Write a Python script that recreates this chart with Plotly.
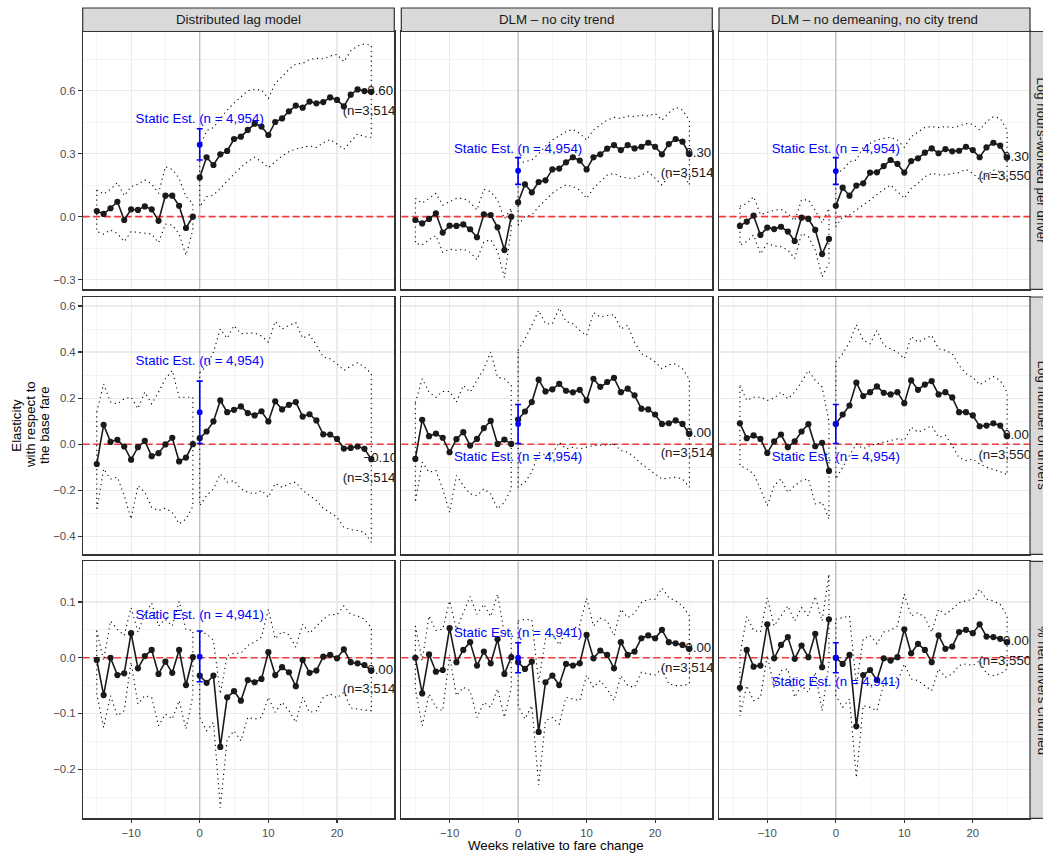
import plotly.graph_objects as go

# figure fills the whole 1043x855 window (page margin removed after render)
OFF = 0.0
FW, FH = 1043, 855
FONT = "Liberation Sans, Arial, Helvetica, sans-serif"

# ---------------- data ----------------
weeks_pre15 = list(range(-15, 0))
weeks_pre14 = list(range(-14, 0))
weeks_post = list(range(0, 26))

model_titles = ["Distributed lag model", "DLM – no city trend", "DLM – no demeaning, no city trend"]
outcome_titles = ["Log hours-worked per driver", "Log number of drivers", "% net drivers churned"]

x_ticks = [-10, 0, 10, 20]
x_minor = [-15, -5, 5, 15, 25]
y_ticks_hrs = [-0.3, 0.0, 0.3, 0.6]
y_minor_hrs = [-0.15, 0.15, 0.45, 0.75]
y_ticks_drv = [-0.4, -0.2, 0.0, 0.2, 0.4, 0.6]
y_minor_drv = [-0.3, -0.1, 0.1, 0.3, 0.5]
y_ticks_churn = [-0.2, -0.1, 0.0, 0.1]
y_minor_churn = [-0.25, -0.15, -0.05, 0.05, 0.15]

static_n = ["4,954", "4,954", "4,941"]          # per outcome row
final_n = ["3,514", "3,514", "3,550"]           # per model column

# --- Log hours-worked per driver ---
hrs_dlm_est_pre = [0.027, 0.013, 0.040, 0.071, -0.016, 0.035, 0.032, 0.049, 0.035, -0.020, 0.100, 0.100, 0.052, -0.054, 0.000]
hrs_dlm_hi_pre = [0.127, 0.108, 0.130, 0.162, 0.100, 0.143, 0.154, 0.175, 0.156, 0.111, 0.238, 0.225, 0.183, 0.095, 0.063]
hrs_dlm_lo_pre = [-0.071, -0.083, -0.063, -0.080, -0.119, -0.071, -0.076, -0.079, -0.083, -0.124, -0.035, -0.040, -0.083, -0.184, -0.063]
hrs_dlm_est_post = [0.187, 0.283, 0.246, 0.297, 0.313, 0.370, 0.381, 0.413, 0.443, 0.429, 0.389, 0.451, 0.468, 0.502, 0.529, 0.519, 0.548, 0.540, 0.546, 0.568, 0.556, 0.525, 0.581, 0.606, 0.598, 0.595]
hrs_dlm_hi_post = [0.330, 0.410, 0.425, 0.468, 0.508, 0.540, 0.571, 0.600, 0.606, 0.603, 0.563, 0.635, 0.667, 0.702, 0.727, 0.730, 0.749, 0.754, 0.752, 0.765, 0.773, 0.738, 0.790, 0.813, 0.822, 0.817]
hrs_dlm_lo_post = [0.048, 0.095, 0.103, 0.135, 0.167, 0.203, 0.235, 0.262, 0.283, 0.262, 0.233, 0.262, 0.289, 0.310, 0.322, 0.330, 0.337, 0.330, 0.352, 0.368, 0.346, 0.321, 0.357, 0.394, 0.381, 0.378]

hrs_nct_est_pre = [-0.016, -0.032, -0.011, 0.016, -0.076, -0.043, -0.044, -0.037, -0.060, -0.098, 0.011, 0.008, -0.051, -0.159, 0.000]
hrs_nct_hi_pre = [0.087, 0.065, 0.087, 0.111, 0.055, 0.071, 0.087, 0.087, 0.068, 0.032, 0.130, 0.119, 0.079, -0.010, 0.040]
hrs_nct_lo_pre = [-0.127, -0.135, -0.110, -0.090, -0.170, -0.155, -0.160, -0.155, -0.170, -0.205, -0.120, -0.110, -0.165, -0.290, -0.060]
hrs_nct_est_post = [0.068, 0.154, 0.116, 0.165, 0.173, 0.225, 0.229, 0.259, 0.283, 0.267, 0.225, 0.283, 0.297, 0.324, 0.341, 0.317, 0.341, 0.325, 0.333, 0.352, 0.333, 0.297, 0.346, 0.370, 0.357, 0.298]
hrs_nct_hi_post = [0.254, 0.262, 0.270, 0.300, 0.336, 0.365, 0.384, 0.405, 0.416, 0.397, 0.365, 0.413, 0.437, 0.460, 0.473, 0.468, 0.479, 0.476, 0.484, 0.479, 0.492, 0.460, 0.495, 0.521, 0.508, 0.460]
hrs_nct_lo_post = [-0.040, 0.000, 0.008, 0.048, 0.079, 0.111, 0.135, 0.151, 0.143, 0.127, 0.087, 0.135, 0.167, 0.198, 0.206, 0.190, 0.183, 0.183, 0.198, 0.214, 0.183, 0.151, 0.190, 0.222, 0.210, 0.151]

hrs_ndm_est_pre = [-0.044, -0.024, 0.005, -0.087, -0.052, -0.059, -0.048, -0.071, -0.116, -0.005, -0.011, -0.063, -0.178, -0.106]
hrs_ndm_hi_pre = [0.050, 0.063, 0.095, 0.010, 0.020, 0.030, 0.035, 0.015, -0.020, 0.080, 0.080, 0.030, -0.030, 0.040]
hrs_ndm_lo_pre = [-0.135, -0.119, -0.087, -0.178, -0.127, -0.140, -0.143, -0.159, -0.200, -0.080, -0.095, -0.159, -0.286, -0.222]
hrs_ndm_est_post = [0.052, 0.138, 0.100, 0.148, 0.159, 0.210, 0.211, 0.241, 0.270, 0.251, 0.210, 0.265, 0.278, 0.305, 0.325, 0.302, 0.322, 0.311, 0.314, 0.333, 0.317, 0.283, 0.330, 0.352, 0.338, 0.283]
hrs_ndm_hi_post = [0.206, 0.222, 0.262, 0.270, 0.333, 0.349, 0.365, 0.373, 0.378, 0.365, 0.330, 0.381, 0.405, 0.425, 0.429, 0.424, 0.429, 0.425, 0.432, 0.444, 0.440, 0.413, 0.452, 0.476, 0.468, 0.413]
hrs_ndm_lo_post = [-0.048, 0.000, 0.008, 0.032, 0.056, 0.079, 0.103, 0.130, 0.151, 0.119, 0.087, 0.135, 0.159, 0.190, 0.206, 0.200, 0.198, 0.206, 0.210, 0.225, 0.206, 0.175, 0.194, 0.222, 0.214, 0.167]

# --- Log number of drivers ---
drv_dlm_est_pre = [-0.086, 0.084, 0.010, 0.019, -0.010, -0.067, -0.013, 0.014, -0.052, -0.039, -0.001, 0.028, -0.075, -0.058, 0.000]
drv_dlm_hi_pre = [0.140, 0.262, 0.183, 0.175, 0.197, 0.204, 0.154, 0.226, 0.175, 0.226, 0.284, 0.320, 0.204, 0.204, 0.204]
drv_dlm_lo_pre = [-0.288, -0.107, -0.151, -0.143, -0.223, -0.325, -0.180, -0.209, -0.274, -0.288, -0.278, -0.296, -0.346, -0.325, -0.270]
drv_dlm_est_post = [0.026, 0.055, 0.099, 0.190, 0.139, 0.149, 0.164, 0.135, 0.125, 0.143, 0.099, 0.186, 0.151, 0.171, 0.183, 0.120, 0.130, 0.103, 0.043, 0.042, 0.023, -0.019, -0.016, -0.010, -0.020, -0.065]
drv_dlm_hi_post = [0.310, 0.340, 0.400, 0.500, 0.460, 0.515, 0.480, 0.480, 0.483, 0.470, 0.443, 0.533, 0.500, 0.516, 0.528, 0.460, 0.475, 0.430, 0.378, 0.371, 0.349, 0.320, 0.339, 0.354, 0.335, 0.306]
drv_dlm_lo_post = [-0.267, -0.223, -0.194, -0.129, -0.165, -0.158, -0.194, -0.209, -0.216, -0.201, -0.230, -0.170, -0.187, -0.172, -0.165, -0.201, -0.223, -0.245, -0.278, -0.296, -0.317, -0.361, -0.371, -0.375, -0.383, -0.426]

drv_nct_est_pre = [-0.064, 0.106, 0.035, 0.046, 0.028, -0.035, 0.022, 0.052, -0.006, 0.023, 0.070, 0.101, 0.001, 0.020, 0.001]
drv_nct_hi_pre = [0.180, 0.284, 0.226, 0.204, 0.229, 0.229, 0.183, 0.255, 0.226, 0.277, 0.328, 0.400, 0.291, 0.284, 0.255]
drv_nct_lo_pre = [-0.252, -0.078, -0.122, -0.114, -0.194, -0.296, -0.136, -0.180, -0.216, -0.223, -0.194, -0.216, -0.281, -0.252, -0.194]
drv_nct_est_post = [0.107, 0.142, 0.183, 0.280, 0.229, 0.238, 0.262, 0.232, 0.225, 0.236, 0.190, 0.284, 0.249, 0.270, 0.288, 0.226, 0.241, 0.212, 0.154, 0.151, 0.129, 0.088, 0.091, 0.103, 0.088, 0.045]
drv_nct_hi_post = [0.407, 0.458, 0.516, 0.581, 0.523, 0.523, 0.591, 0.533, 0.523, 0.494, 0.472, 0.571, 0.552, 0.559, 0.562, 0.501, 0.516, 0.443, 0.393, 0.378, 0.357, 0.328, 0.345, 0.349, 0.328, 0.281]
drv_nct_lo_post = [-0.187, -0.165, -0.122, -0.035, -0.049, -0.042, 0.009, -0.020, -0.013, -0.020, -0.013, -0.006, -0.006, -0.003, 0.001, -0.028, -0.035, -0.057, -0.086, -0.107, -0.129, -0.151, -0.148, -0.143, -0.151, -0.187]

drv_ndm_est_pre = [0.091, 0.026, 0.038, 0.023, -0.038, 0.012, 0.042, -0.013, 0.012, 0.055, 0.087, -0.009, 0.006, -0.116]
drv_ndm_hi_pre = [0.255, 0.190, 0.204, 0.204, 0.190, 0.200, 0.226, 0.197, 0.226, 0.270, 0.320, 0.277, 0.248, 0.100]
drv_ndm_lo_pre = [-0.093, -0.107, -0.129, -0.194, -0.267, -0.180, -0.151, -0.209, -0.180, -0.158, -0.151, -0.259, -0.252, -0.325]
drv_ndm_est_post = [0.088, 0.129, 0.168, 0.267, 0.209, 0.226, 0.251, 0.223, 0.216, 0.226, 0.178, 0.277, 0.236, 0.259, 0.274, 0.216, 0.226, 0.203, 0.139, 0.139, 0.125, 0.078, 0.081, 0.091, 0.081, 0.035]
drv_ndm_hi_post = [0.357, 0.393, 0.443, 0.519, 0.451, 0.436, 0.494, 0.429, 0.414, 0.400, 0.371, 0.468, 0.443, 0.458, 0.472, 0.414, 0.407, 0.393, 0.342, 0.306, 0.291, 0.258, 0.277, 0.294, 0.277, 0.226]
drv_ndm_lo_post = [-0.151, -0.100, -0.049, 0.001, -0.020, -0.006, 0.001, 0.009, 0.016, 0.023, 0.016, 0.074, 0.052, 0.064, 0.081, 0.030, 0.038, -0.006, -0.059, -0.071, -0.064, -0.086, -0.100, -0.110, -0.119, -0.133]

# --- % net drivers churned ---
churn_dlm_est_pre = [-0.004, -0.067, 0.000, -0.031, -0.028, 0.044, -0.019, 0.003, 0.014, -0.029, -0.007, -0.027, 0.014, -0.049, 0.001]
churn_dlm_hi_pre = [0.049, -0.005, 0.066, 0.051, 0.040, 0.090, 0.046, 0.078, 0.098, 0.057, 0.069, 0.057, 0.101, 0.051, 0.049]
churn_dlm_lo_pre = [-0.065, -0.125, -0.068, -0.104, -0.095, -0.008, -0.083, -0.068, -0.071, -0.122, -0.101, -0.110, -0.077, -0.128, -0.068]
churn_dlm_est_post = [-0.032, -0.045, -0.032, -0.160, -0.071, -0.060, -0.077, -0.040, -0.044, -0.038, 0.010, -0.031, -0.017, -0.026, -0.051, -0.004, -0.027, -0.023, 0.002, 0.005, -0.001, 0.015, -0.008, -0.010, -0.013, -0.023]
churn_dlm_hi_post = [0.046, 0.043, 0.031, -0.065, 0.004, 0.008, 0.008, 0.022, 0.028, 0.037, 0.087, 0.034, 0.047, 0.041, 0.019, 0.060, 0.044, 0.057, 0.069, 0.078, 0.077, 0.093, 0.078, 0.075, 0.069, 0.054]
churn_dlm_lo_post = [-0.107, -0.131, -0.116, -0.269, -0.146, -0.131, -0.149, -0.107, -0.110, -0.107, -0.071, -0.098, -0.080, -0.095, -0.116, -0.071, -0.098, -0.095, -0.071, -0.065, -0.072, -0.062, -0.090, -0.092, -0.094, -0.095]

churn_nct_est_pre = [0.000, -0.064, 0.006, -0.025, -0.022, 0.053, -0.008, 0.014, 0.028, -0.014, 0.011, -0.010, 0.033, -0.029, 0.001]
churn_nct_hi_pre = [0.057, -0.005, 0.075, 0.049, 0.051, 0.102, 0.051, 0.081, 0.110, 0.078, 0.096, 0.074, 0.114, 0.043, 0.049]
churn_nct_lo_pre = [-0.056, -0.122, -0.065, -0.089, -0.095, 0.004, -0.068, -0.053, -0.059, -0.107, -0.080, -0.089, -0.056, -0.107, -0.053]
churn_nct_est_post = [-0.008, -0.020, -0.007, -0.133, -0.044, -0.032, -0.049, -0.011, -0.014, -0.010, 0.041, -0.001, 0.013, 0.005, -0.019, 0.028, 0.005, 0.011, 0.035, 0.040, 0.035, 0.050, 0.028, 0.026, 0.023, 0.016]
churn_nct_hi_post = [0.066, 0.069, 0.068, -0.044, 0.034, 0.043, 0.023, 0.049, 0.051, 0.059, 0.107, 0.057, 0.071, 0.066, 0.040, 0.087, 0.072, 0.080, 0.099, 0.105, 0.105, 0.125, 0.108, 0.102, 0.093, 0.075]
churn_nct_lo_post = [-0.086, -0.110, -0.086, -0.228, -0.113, -0.107, -0.119, -0.071, -0.074, -0.077, -0.031, -0.053, -0.041, -0.056, -0.077, -0.032, -0.050, -0.053, -0.026, -0.029, -0.031, -0.020, -0.047, -0.050, -0.050, -0.047]

churn_ndm_est_pre = [-0.054, 0.014, -0.016, -0.014, 0.060, -0.001, 0.023, 0.037, -0.002, 0.022, 0.001, 0.043, -0.017, 0.069]
churn_ndm_hi_pre = [0.004, 0.074, 0.049, 0.046, 0.108, 0.057, 0.075, 0.093, 0.066, 0.090, 0.075, 0.110, 0.066, 0.150]
churn_ndm_lo_pre = [-0.104, -0.050, -0.077, -0.071, 0.004, -0.053, -0.023, -0.020, -0.071, -0.050, -0.062, -0.026, -0.095, -0.011]
churn_ndm_est_post = [0.000, -0.011, 0.005, -0.123, -0.031, -0.022, -0.040, -0.001, -0.005, 0.001, 0.051, 0.008, 0.025, 0.014, -0.008, 0.040, 0.016, 0.020, 0.046, 0.050, 0.044, 0.060, 0.038, 0.037, 0.034, 0.028]
churn_ndm_hi_post = [0.069, 0.072, 0.075, -0.050, 0.034, 0.040, 0.025, 0.046, 0.049, 0.057, 0.114, 0.075, 0.081, 0.072, 0.046, 0.087, 0.078, 0.087, 0.099, 0.102, 0.105, 0.123, 0.105, 0.102, 0.096, 0.075]
churn_ndm_lo_post = [-0.068, -0.089, -0.074, -0.215, -0.086, -0.089, -0.095, -0.047, -0.044, -0.044, -0.011, -0.038, -0.041, -0.050, -0.059, -0.020, -0.035, -0.029, -0.014, -0.011, -0.014, -0.005, -0.029, -0.032, -0.029, -0.020]

# static estimates (row-major: hrs, drv, churn x dlm, nct, ndm)
static_est = [0.343, 0.219, 0.217, 0.139, 0.088, 0.088, 0.002, 0.000, 0.000]
static_lo = [0.270, 0.154, 0.154, 0.003, 0.003, 0.003, -0.043, -0.027, -0.027]
static_hi = [0.419, 0.281, 0.281, 0.274, 0.172, 0.172, 0.048, 0.027, 0.027]
static_label_y = [0.463, 0.321, 0.321, 0.359, -0.057, -0.057, 0.075, 0.043, -0.044]

# ---------------- layout geometry (screen pixels) ----------------
col_px = [(82.7, 394.3), (401.3, 712.3), (719.0, 1030.0)]
row_px = [(31.5, 289.3), (297.0, 554.3), (561.3, 818.3)]
x_range = [-17.05, 28.35]
y_ranges = [[-0.346, 0.882], [-0.478, 0.639], [-0.288, 0.173]]
y_ticks = [y_ticks_hrs, y_ticks_drv, y_ticks_churn]
y_minor = [y_minor_hrs, y_minor_drv, y_minor_churn]


def px_x(p):
    return (p - OFF) / FW


def px_y(p):
    return 1 - (p - OFF) / FH


panels = {
    (0, 0): (weeks_pre15, hrs_dlm_est_pre, hrs_dlm_lo_pre, hrs_dlm_hi_pre, hrs_dlm_est_post, hrs_dlm_lo_post, hrs_dlm_hi_post),
    (0, 1): (weeks_pre15, hrs_nct_est_pre, hrs_nct_lo_pre, hrs_nct_hi_pre, hrs_nct_est_post, hrs_nct_lo_post, hrs_nct_hi_post),
    (0, 2): (weeks_pre14, hrs_ndm_est_pre, hrs_ndm_lo_pre, hrs_ndm_hi_pre, hrs_ndm_est_post, hrs_ndm_lo_post, hrs_ndm_hi_post),
    (1, 0): (weeks_pre15, drv_dlm_est_pre, drv_dlm_lo_pre, drv_dlm_hi_pre, drv_dlm_est_post, drv_dlm_lo_post, drv_dlm_hi_post),
    (1, 1): (weeks_pre15, drv_nct_est_pre, drv_nct_lo_pre, drv_nct_hi_pre, drv_nct_est_post, drv_nct_lo_post, drv_nct_hi_post),
    (1, 2): (weeks_pre14, drv_ndm_est_pre, drv_ndm_lo_pre, drv_ndm_hi_pre, drv_ndm_est_post, drv_ndm_lo_post, drv_ndm_hi_post),
    (2, 0): (weeks_pre15, churn_dlm_est_pre, churn_dlm_lo_pre, churn_dlm_hi_pre, churn_dlm_est_post, churn_dlm_lo_post, churn_dlm_hi_post),
    (2, 1): (weeks_pre15, churn_nct_est_pre, churn_nct_lo_pre, churn_nct_hi_pre, churn_nct_est_post, churn_nct_lo_post, churn_nct_hi_post),
    (2, 2): (weeks_pre14, churn_ndm_est_pre, churn_ndm_lo_pre, churn_ndm_hi_pre, churn_ndm_est_post, churn_ndm_lo_post, churn_ndm_hi_post),
}


def fmt(v, nd):
    return f"{v:.{nd}f}".replace("-", "\u2212")


def fmt_label(v):
    return fmt(round(v, 1) + 0.0, 2)


fig = go.Figure()
layout = dict(
    width=FW, height=FH, autosize=False,
    margin=dict(l=0, r=0, t=0, b=0, pad=0),
    paper_bgcolor="white", plot_bgcolor="white",
    showlegend=False, hovermode=False,
    font=dict(family=FONT, color="#1A1A1A"),
)
shapes = []
annotations = []

GRID = "#EBEBEB"
BORDER = "#333333"
TICKFONT = dict(family=FONT, size=11.4, color="#4D4D4D")
TEXTSIZE = 13.3

for (r, c), (xs_pre, e_pre, l_pre, h_pre, e_post, l_post, h_post) in panels.items():
    idx = r * 3 + c + 1
    xa = "x" if idx == 1 else f"x{idx}"
    ya = "y" if idx == 1 else f"y{idx}"
    xk = "xaxis" if idx == 1 else f"xaxis{idx}"
    yk = "yaxis" if idx == 1 else f"yaxis{idx}"
    x0, x1 = col_px[c]
    y0, y1 = row_px[r]
    ppu = (y1 - y0) / (y_ranges[r][1] - y_ranges[r][0])

    layout[xk] = dict(
        domain=[px_x(x0), px_x(x1)], range=x_range, anchor=ya,
        tickmode="array", tickvals=x_ticks, ticktext=[fmt(v, 0) for v in x_ticks],
        showticklabels=(r == 2), ticks="outside" if r == 2 else "",
        ticklen=3.5, tickwidth=1.1, tickcolor=BORDER, tickfont=TICKFONT,
        showgrid=True, gridcolor=GRID, gridwidth=1.1,
        minor=dict(tickvals=x_minor, showgrid=True, gridcolor=GRID, gridwidth=0.55, ticks=""),
        zeroline=False, showline=True, mirror=True, linecolor=BORDER, linewidth=1.2,
        fixedrange=True,
    )
    layout[yk] = dict(
        domain=[px_y(y1), px_y(y0)], range=y_ranges[r], anchor=xa,
        tickmode="array", tickvals=y_ticks[r], ticktext=[fmt(v, 1) for v in y_ticks[r]],
        showticklabels=(c == 0), ticks="outside" if c == 0 else "",
        ticklen=3.5, tickwidth=1.1, tickcolor=BORDER, tickfont=TICKFONT,
        showgrid=True, gridcolor=GRID, gridwidth=1.1,
        minor=dict(tickvals=y_minor[r], showgrid=True, gridcolor=GRID, gridwidth=0.55, ticks=""),
        zeroline=False, showline=True, mirror=True, linecolor=BORDER, linewidth=1.2,
        fixedrange=True,
    )

    # reference lines (axis coordinates spanning the full panel)
    shapes.append(dict(type="line", xref=xa, yref=ya, x0=x_range[0], x1=x_range[1], y0=0, y1=0,
                       line=dict(color="#F23A3A", width=1.6, dash="7px,3.5px"), layer="between"))
    shapes.append(dict(type="line", xref=xa, yref=ya, x0=0, x1=0,
                       y0=y_ranges[r][0], y1=y_ranges[r][1],
                       line=dict(color="#BEBEBE", width=1.3), layer="between"))

    # confidence bands (dotted outline)
    for xs, lo, hi in [(xs_pre, l_pre, h_pre), (weeks_post, l_post, h_post)]:
        bx = list(xs) + list(xs[::-1]) + [xs[0]]
        by = list(hi) + list(lo[::-1]) + [hi[0]]
        fig.add_trace(go.Scatter(x=bx, y=by, mode="lines", xaxis=xa, yaxis=ya,
                                 line=dict(color="black", width=1.1, dash="1.2px,3.6px"),
                                 hoverinfo="skip"))

    # end-of-window labels (drawn before points so the last point sits on top)
    last = e_post[-1]
    fig.add_trace(go.Scatter(x=[26.3], y=[last], mode="text", xaxis=xa, yaxis=ya,
                             text=[fmt_label(last)], textposition="middle center",
                             textfont=dict(family=FONT, size=TEXTSIZE, color="#1A1A1A"),
                             cliponaxis=True, hoverinfo="skip"))
    fig.add_trace(go.Scatter(x=[25.0], y=[last - 19.5 / ppu], mode="text", xaxis=xa, yaxis=ya,
                             text=[f"(n={final_n[c]})"], textposition="middle center",
                             textfont=dict(family=FONT, size=TEXTSIZE, color="#1A1A1A"),
                             cliponaxis=True, hoverinfo="skip"))

    # estimates
    for xs, est in [(xs_pre, e_pre), (weeks_post, e_post)]:
        fig.add_trace(go.Scatter(x=xs, y=est, mode="lines+markers", xaxis=xa, yaxis=ya,
                                 line=dict(color="#1A1A1A", width=1.6),
                                 marker=dict(size=6.2, color="#1A1A1A"),
                                 cliponaxis=True, hoverinfo="skip"))

    # static estimate
    k = idx - 1
    fig.add_trace(go.Scatter(x=[0], y=[static_est[k]], mode="markers", xaxis=xa, yaxis=ya,
                             marker=dict(size=5.8, color="#0000FF"),
                             error_y=dict(type="data", symmetric=False,
                                          array=[static_hi[k] - static_est[k]],
                                          arrayminus=[static_est[k] - static_lo[k]],
                                          color="#0000FF", thickness=1.6, width=3),
                             hoverinfo="skip"))
    fig.add_trace(go.Scatter(x=[0], y=[static_label_y[k]], mode="text", xaxis=xa, yaxis=ya,
                             text=[f"Static Est. (n = {static_n[r]})"], textposition="middle center",
                             textfont=dict(family=FONT, size=TEXTSIZE, color="#0000FF"),
                             cliponaxis=True, hoverinfo="skip"))

# strips on top
for c, title in enumerate(model_titles):
    x0, x1 = col_px[c]
    shapes.append(dict(type="rect", xref="paper", yref="paper",
                       x0=px_x(x0), x1=px_x(x1), y0=px_y(31.5), y1=px_y(8.0),
                       fillcolor="#D9D9D9", line=dict(color=BORDER, width=1.2), layer="above"))
    annotations.append(dict(text=title, xref="paper", yref="paper",
                            x=px_x((x0 + x1) / 2), y=px_y(19.8), xanchor="center", yanchor="middle",
                            showarrow=False, font=dict(family=FONT, size=TEXTSIZE, color="#1A1A1A")))

# strips on right (cut by the right edge of the picture, as in the original)
for r, title in enumerate(outcome_titles):
    y0, y1 = row_px[r]
    shapes.append(dict(type="rect", xref="paper", yref="paper",
                       x0=px_x(1030.0), x1=px_x(1054.0), y0=px_y(y1), y1=px_y(y0),
                       fillcolor="#D9D9D9", line=dict(color=BORDER, width=1.2), layer="above"))
    annotations.append(dict(text=title, xref="paper", yref="paper",
                            x=px_x(1042.0), y=px_y((y0 + y1) / 2), xanchor="center", yanchor="middle",
                            textangle=90, showarrow=False,
                            font=dict(family=FONT, size=TEXTSIZE, color="#1A1A1A")))

# axis titles
annotations.append(dict(text="Weeks relative to fare change", xref="paper", yref="paper",
                        x=px_x(556), y=px_y(845), xanchor="center", yanchor="middle",
                        showarrow=False, font=dict(family=FONT, size=TEXTSIZE, color="black")))
for xpx, line in zip([16.7, 31.0, 45.0], ["Elasticity", "with respect to", "the base fare"]):
    annotations.append(dict(text=line, xref="paper", yref="paper",
                            x=px_x(xpx), y=px_y(425), xanchor="center", yanchor="middle",
                            textangle=-90, showarrow=False,
                            font=dict(family=FONT, size=TEXTSIZE, color="black")))

layout["shapes"] = shapes
layout["annotations"] = annotations
fig.update_layout(**layout)

fig.write_html(
    "out.html",
    config={"displayModeBar": False, "staticPlot": True},
    post_script="document.body.style.margin='0px';"
                "document.documentElement.style.overflow='hidden';"
                "document.body.style.overflow='hidden';",
)
